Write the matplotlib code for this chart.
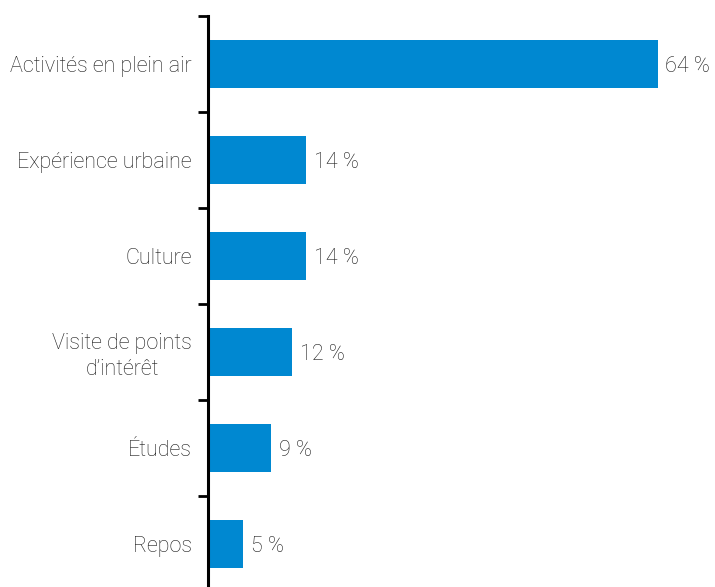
import numpy as np
import matplotlib.pyplot as plt

categories = [
    "Activités en plein air",
    "Expérience urbaine",
    "Culture",
    "Visite de points\nd\u2019intérêt",
    "Études",
    "Repos",
]
shares = [64, 14, 14, 12, 9, 5]
value_labels = ["64 %", "14 %", "14 %", "12 %", "9 %", "5 %"]

BAR_COLOR = "#0088D1"
TEXT_COLOR = "#1a1a1a"
FONT_SIZE = 15.5

plt.rcParams["font.family"] = ["Roboto", "DejaVu Sans"]

fig = plt.figure(figsize=(7.15, 5.87), dpi=100)
ax = fig.add_axes([208 / 715, 1 - 592 / 587, 492 / 715, 576 / 587])

y = np.arange(len(categories))
ax.barh(y, shares, height=0.5, color=BAR_COLOR)

for yi, v, lab in zip(y, shares, value_labels):
    ax.annotate(lab, (v, yi), xytext=(5.5, 0), textcoords="offset points",
                va="center_baseline", ha="left", fontsize=FONT_SIZE,
                fontweight="light", color=TEXT_COLOR)

ax.set_xlim(0, 70)
ax.set_ylim(len(categories) - 0.5, -0.5)

# category labels sit at bar centres, tick marks at the boundaries
ax.set_yticks(y)
ax.set_yticklabels(categories, fontsize=FONT_SIZE, fontweight="light",
                   color=TEXT_COLOR, multialignment="center", linespacing=1.3)
ax.tick_params(axis="y", which="major", length=0, pad=11.5)
ax.set_yticks(np.arange(-0.5, len(categories) + 0.5, 1), minor=True)
ax.tick_params(axis="y", which="minor", length=7, width=2, direction="out")

ax.set_xticks([])
for side in ["top", "right", "bottom"]:
    ax.spines[side].set_visible(False)
ax.spines["left"].set_linewidth(2.2)
ax.spines["left"].set_color("black")

fig.savefig("out.png", dpi=100)
